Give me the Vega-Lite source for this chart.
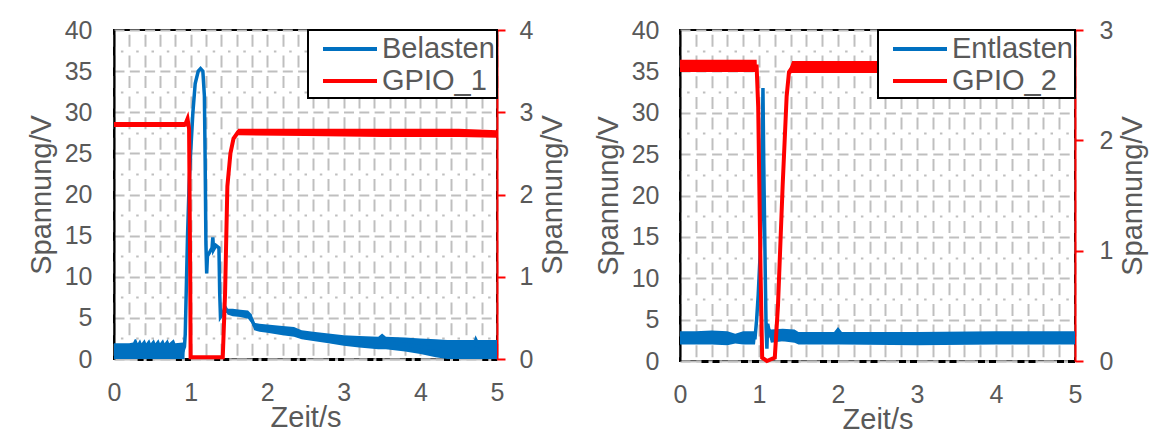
{
  "$schema": "https://vega.github.io/schema/vega-lite/v6.json",
  "padding": {"left": 26, "top": 17, "right": 0, "bottom": 0},
  "background": "white",
  "config": {
    "font": "Liberation Sans",
    "view": {"stroke": "black", "strokeWidth": 2},
    "axis": {
      "labelFont": "Liberation Sans", "titleFont": "Liberation Sans",
      "labelColor": "#595959", "titleColor": "#595959",
      "labelFontSize": 25, "titleFontSize": 29, "titleFontWeight": "normal",
      "labelOverlap": false, "labelFlush": false
    },
    "legend": {
      "orient": "top-right", "offset": 0, "padding": 2,
      "strokeColor": "black", "strokeWidth": 2, "fillColor": "white",
      "labelFontSize": 29, "labelColor": "#595959", "labelFont": "Liberation Sans",
      "symbolType": "M-1.8,0H1.8", "symbolStrokeWidth": 4, "symbolSize": 900,
      "rowPadding": -3, "labelOffset": 15, "labelLimit": 0, "symbolOffset": 23
    }
  },
  "datasets": {
    "p1": [
      {"s":"Belasten","t":0,"v":1,"lo":0,"hi":1.9},
      {"s":"Belasten","t":0.1,"v":1,"lo":0,"hi":1.9},
      {"s":"Belasten","t":0.2,"v":1,"lo":0,"hi":1.9},
      {"s":"Belasten","t":0.25,"v":1,"lo":0,"hi":2.0},
      {"s":"Belasten","t":0.27,"v":1.2,"lo":0,"hi":2.4},
      {"s":"Belasten","t":0.29,"v":1.2,"lo":0,"hi":2.4},
      {"s":"Belasten","t":0.31,"v":1,"lo":0,"hi":1.9},
      {"s":"Belasten","t":0.34,"v":1.2,"lo":0,"hi":2.4},
      {"s":"Belasten","t":0.36,"v":1,"lo":0,"hi":1.9},
      {"s":"Belasten","t":0.4,"v":1.2,"lo":0,"hi":2.4},
      {"s":"Belasten","t":0.42,"v":1,"lo":0,"hi":1.9},
      {"s":"Belasten","t":0.46,"v":1.2,"lo":0,"hi":2.4},
      {"s":"Belasten","t":0.48,"v":1,"lo":0,"hi":1.9},
      {"s":"Belasten","t":0.52,"v":1.2,"lo":0,"hi":2.4},
      {"s":"Belasten","t":0.54,"v":1,"lo":0,"hi":1.9},
      {"s":"Belasten","t":0.58,"v":1.2,"lo":0,"hi":2.4},
      {"s":"Belasten","t":0.6,"v":1,"lo":0,"hi":1.9},
      {"s":"Belasten","t":0.64,"v":1.2,"lo":0,"hi":2.4},
      {"s":"Belasten","t":0.66,"v":1,"lo":0,"hi":1.9},
      {"s":"Belasten","t":0.7,"v":1.2,"lo":0,"hi":2.4},
      {"s":"Belasten","t":0.72,"v":1,"lo":0,"hi":1.9},
      {"s":"Belasten","t":0.78,"v":1.2,"lo":0,"hi":2.4},
      {"s":"Belasten","t":0.8,"v":1,"lo":0,"hi":1.9},
      {"s":"Belasten","t":0.9,"v":1,"lo":0,"hi":2.0},
      {"s":"Belasten","t":0.92,"v":1.5,"lo":0,"hi":2.0},
      {"s":"Belasten","t":0.93,"v":3,"lo":3,"hi":3},
      {"s":"Belasten","t":0.96,"v":15,"lo":15,"hi":15},
      {"s":"Belasten","t":0.98,"v":21,"lo":21,"hi":21},
      {"s":"Belasten","t":1.0,"v":25,"lo":25,"hi":25},
      {"s":"Belasten","t":1.03,"v":30,"lo":30,"hi":30},
      {"s":"Belasten","t":1.06,"v":33.5,"lo":33.5,"hi":33.5},
      {"s":"Belasten","t":1.1,"v":35,"lo":35,"hi":35},
      {"s":"Belasten","t":1.13,"v":35.3,"lo":35.3,"hi":35.3},
      {"s":"Belasten","t":1.16,"v":35,"lo":35,"hi":35},
      {"s":"Belasten","t":1.18,"v":32,"lo":32,"hi":32},
      {"s":"Belasten","t":1.19,"v":24,"lo":24,"hi":24},
      {"s":"Belasten","t":1.2,"v":14,"lo":14,"hi":14},
      {"s":"Belasten","t":1.21,"v":10.4,"lo":10.4,"hi":10.4},
      {"s":"Belasten","t":1.22,"v":12.5,"lo":12.5,"hi":12.5},
      {"s":"Belasten","t":1.25,"v":13,"lo":13,"hi":13},
      {"s":"Belasten","t":1.28,"v":13.5,"lo":13.5,"hi":13.5},
      {"s":"Belasten","t":1.29,"v":14.8,"lo":14.8,"hi":14.8},
      {"s":"Belasten","t":1.3,"v":13.3,"lo":13.3,"hi":13.3},
      {"s":"Belasten","t":1.33,"v":13.8,"lo":13.8,"hi":13.8},
      {"s":"Belasten","t":1.37,"v":13.5,"lo":13.5,"hi":13.5},
      {"s":"Belasten","t":1.38,"v":8,"lo":8,"hi":8},
      {"s":"Belasten","t":1.39,"v":5.1,"lo":5.1,"hi":5.1},
      {"s":"Belasten","t":1.42,"v":5.5,"lo":5.5,"hi":5.5},
      {"s":"Belasten","t":1.45,"v":6.3,"lo":6.3,"hi":6.3},
      {"s":"Belasten","t":1.48,"v":5.8,"lo":5.4,"hi":6.1},
      {"s":"Belasten","t":1.55,"v":5.7,"lo":5.2,"hi":6.1},
      {"s":"Belasten","t":1.65,"v":5.6,"lo":5.1,"hi":6.0},
      {"s":"Belasten","t":1.75,"v":5.4,"lo":4.9,"hi":5.9},
      {"s":"Belasten","t":1.8,"v":4.8,"lo":4.3,"hi":5.4},
      {"s":"Belasten","t":1.83,"v":4.1,"lo":3.5,"hi":4.4},
      {"s":"Belasten","t":1.9,"v":3.9,"lo":3.3,"hi":4.3},
      {"s":"Belasten","t":2.0,"v":3.8,"lo":3.2,"hi":4.2},
      {"s":"Belasten","t":2.2,"v":3.5,"lo":2.9,"hi":4.0},
      {"s":"Belasten","t":2.35,"v":3.3,"lo":2.7,"hi":3.9},
      {"s":"Belasten","t":2.45,"v":3.0,"lo":2.4,"hi":3.5},
      {"s":"Belasten","t":2.6,"v":2.8,"lo":2.2,"hi":3.3},
      {"s":"Belasten","t":2.8,"v":2.6,"lo":1.9,"hi":3.1},
      {"s":"Belasten","t":3.0,"v":2.3,"lo":1.6,"hi":2.9},
      {"s":"Belasten","t":3.2,"v":2.2,"lo":1.4,"hi":2.8},
      {"s":"Belasten","t":3.45,"v":2.1,"lo":1.2,"hi":2.7},
      {"s":"Belasten","t":3.5,"v":2.2,"lo":1.2,"hi":3.1},
      {"s":"Belasten","t":3.55,"v":2.0,"lo":1.2,"hi":2.7},
      {"s":"Belasten","t":3.8,"v":1.8,"lo":0.9,"hi":2.6},
      {"s":"Belasten","t":4.0,"v":1.5,"lo":0.6,"hi":2.5},
      {"s":"Belasten","t":4.2,"v":1.3,"lo":0.2,"hi":2.4},
      {"s":"Belasten","t":4.35,"v":1.1,"lo":0,"hi":2.3},
      {"s":"Belasten","t":4.7,"v":1.1,"lo":0,"hi":2.3},
      {"s":"Belasten","t":4.72,"v":1.3,"lo":0,"hi":2.9},
      {"s":"Belasten","t":4.75,"v":1.1,"lo":0,"hi":2.3},
      {"s":"Belasten","t":5.0,"v":1.1,"lo":0,"hi":2.3},
      {"s":"GPIO_1","t":0,"v":2.85,"lo":2.82,"hi":2.88},
      {"s":"GPIO_1","t":0.93,"v":2.85,"lo":2.82,"hi":2.88},
      {"s":"GPIO_1","t":0.96,"v":2.92,"lo":2.9,"hi":2.94},
      {"s":"GPIO_1","t":0.98,"v":2.8,"lo":2.8,"hi":2.8},
      {"s":"GPIO_1","t":0.995,"v":1.0,"lo":1.0,"hi":1.0},
      {"s":"GPIO_1","t":1.0,"v":0.02,"lo":0.02,"hi":0.02},
      {"s":"GPIO_1","t":1.42,"v":0.02,"lo":0.02,"hi":0.02},
      {"s":"GPIO_1","t":1.45,"v":0.8,"lo":0.8,"hi":0.8},
      {"s":"GPIO_1","t":1.48,"v":2.1,"lo":2.1,"hi":2.1},
      {"s":"GPIO_1","t":1.52,"v":2.5,"lo":2.5,"hi":2.5},
      {"s":"GPIO_1","t":1.56,"v":2.68,"lo":2.66,"hi":2.7},
      {"s":"GPIO_1","t":1.62,"v":2.76,"lo":2.72,"hi":2.8},
      {"s":"GPIO_1","t":2.5,"v":2.76,"lo":2.71,"hi":2.8},
      {"s":"GPIO_1","t":3.5,"v":2.75,"lo":2.7,"hi":2.8},
      {"s":"GPIO_1","t":4.5,"v":2.75,"lo":2.7,"hi":2.8},
      {"s":"GPIO_1","t":5.0,"v":2.73,"lo":2.69,"hi":2.78}
    ],
    "p2": [
      {"s":"Entlasten","t":0,"v":2.8,"lo":2.0,"hi":3.6},
      {"s":"Entlasten","t":0.2,"v":2.8,"lo":2.0,"hi":3.6},
      {"s":"Entlasten","t":0.4,"v":2.8,"lo":2.0,"hi":3.7},
      {"s":"Entlasten","t":0.6,"v":2.8,"lo":1.9,"hi":3.6},
      {"s":"Entlasten","t":0.7,"v":2.8,"lo":2.1,"hi":3.3},
      {"s":"Entlasten","t":0.8,"v":2.8,"lo":2.0,"hi":3.6},
      {"s":"Entlasten","t":0.95,"v":2.8,"lo":2.0,"hi":3.6},
      {"s":"Entlasten","t":0.97,"v":5,"lo":4,"hi":6},
      {"s":"Entlasten","t":0.99,"v":8,"lo":8,"hi":8},
      {"s":"Entlasten","t":1.02,"v":14,"lo":14,"hi":14},
      {"s":"Entlasten","t":1.04,"v":25,"lo":25,"hi":25},
      {"s":"Entlasten","t":1.05,"v":33,"lo":33,"hi":33},
      {"s":"Entlasten","t":1.06,"v":24,"lo":24,"hi":24},
      {"s":"Entlasten","t":1.07,"v":17,"lo":17,"hi":17},
      {"s":"Entlasten","t":1.08,"v":10,"lo":10,"hi":10},
      {"s":"Entlasten","t":1.09,"v":4,"lo":4,"hi":4},
      {"s":"Entlasten","t":1.1,"v":1.5,"lo":1.5,"hi":1.5},
      {"s":"Entlasten","t":1.11,"v":4.5,"lo":4.5,"hi":4.5},
      {"s":"Entlasten","t":1.13,"v":3.5,"lo":3.0,"hi":4.0},
      {"s":"Entlasten","t":1.15,"v":3.0,"lo":2.2,"hi":3.8},
      {"s":"Entlasten","t":1.3,"v":3.1,"lo":2.4,"hi":3.9},
      {"s":"Entlasten","t":1.45,"v":3.0,"lo":2.2,"hi":3.8},
      {"s":"Entlasten","t":1.5,"v":2.8,"lo":2.0,"hi":3.5},
      {"s":"Entlasten","t":1.95,"v":2.8,"lo":2.0,"hi":3.5},
      {"s":"Entlasten","t":2.0,"v":2.9,"lo":2.0,"hi":4.1},
      {"s":"Entlasten","t":2.05,"v":2.8,"lo":2.0,"hi":3.5},
      {"s":"Entlasten","t":3.0,"v":2.8,"lo":1.9,"hi":3.5},
      {"s":"Entlasten","t":4.0,"v":2.8,"lo":2.0,"hi":3.6},
      {"s":"Entlasten","t":5.0,"v":2.8,"lo":2.0,"hi":3.6},
      {"s":"GPIO_2","t":0,"v":2.67,"lo":2.62,"hi":2.73},
      {"s":"GPIO_2","t":0.97,"v":2.67,"lo":2.62,"hi":2.73},
      {"s":"GPIO_2","t":0.99,"v":2.3,"lo":2.3,"hi":2.3},
      {"s":"GPIO_2","t":1.02,"v":0.8,"lo":0.8,"hi":0.8},
      {"s":"GPIO_2","t":1.04,"v":0.03,"lo":0.03,"hi":0.03},
      {"s":"GPIO_2","t":1.1,"v":0.0,"lo":0.0,"hi":0.0},
      {"s":"GPIO_2","t":1.2,"v":0.03,"lo":0.03,"hi":0.03},
      {"s":"GPIO_2","t":1.24,"v":0.5,"lo":0.5,"hi":0.5},
      {"s":"GPIO_2","t":1.3,"v":1.6,"lo":1.6,"hi":1.6},
      {"s":"GPIO_2","t":1.35,"v":2.4,"lo":2.4,"hi":2.4},
      {"s":"GPIO_2","t":1.38,"v":2.62,"lo":2.6,"hi":2.64},
      {"s":"GPIO_2","t":1.42,"v":2.66,"lo":2.61,"hi":2.72},
      {"s":"GPIO_2","t":3.0,"v":2.66,"lo":2.61,"hi":2.72},
      {"s":"GPIO_2","t":5.0,"v":2.66,"lo":2.61,"hi":2.72}
    ]
  },
  "resolve": {"scale": {"color": "independent"}, "legend": {"color": "independent"}},
  "spacing": 24,
  "hconcat": [
    {
      "width": 383, "height": 329,
      "data": {"name": "p1"},
      "resolve": {"scale": {"y": "independent"}, "axis": {"x": "independent", "y": "independent"}},
      "layer": [
        {
          "transform": [{"filter": "datum.s == 'Belasten'"}],
          "encoding": {
            "x": {"field": "t", "type": "quantitative", "scale": {"domain": [0, 5], "nice": false},
              "axis": {"values": [0,0.2,0.4,0.6,0.8,1,1.2,1.4,1.6,1.8,2,2.2,2.4,2.6,2.8,3,3.2,3.4,3.6,3.8,4,4.2,4.4,4.6,4.8,5],
                "labelExpr": "datum.value % 1 == 0 ? format(datum.value, 'd') : ''",
                "grid": true, "gridColor": "#bfbfbf", "gridWidth": 2, "gridDash": [12, 8.6], "gridDashOffset": 16.3,
                "ticks": false, "labelPadding": 21, "title": "Zeit/s", "titlePadding": -2,
                "domainColor": "#bfbfbf", "domainWidth": 2}}
          },
          "resolve": {"axis": {"y": "independent"}},
          "layer": [
            {
              "mark": {"type": "area", "color": "#0070C0", "opacity": 1},
              "encoding": {
                "y": {"field": "lo", "type": "quantitative", "scale": {"domain": [0, 40], "nice": false},
                  "axis": {"orient": "left", "values": [0,5,10,15,20,25,30,35,40], "title": "Spannung/V",
                    "grid": true, "gridColor": "#bfbfbf", "gridWidth": 2, "gridDash": [10, 5.3], "gridDashOffset": 0,
                    "ticks": false, "domainColor": "black", "domainWidth": 2, "labelPadding": 22, "titlePadding": 8}},
                "y2": {"field": "hi"}
              }
            },
            {
              "mark": {"type": "line", "strokeWidth": 3.5},
              "encoding": {
                "y": {"field": "v", "type": "quantitative",
                  "axis": {"orient": "left", "values": [2.5,7.5,12.5,17.5,22.5,27.5,32.5,37.5], "title": null,
                    "labels": false, "ticks": false, "domain": false,
                    "grid": true, "gridColor": "#bfbfbf", "gridWidth": 2, "gridDash": [2.5, 12.8], "gridDashOffset": -6.4}},
                "color": {"field": "s", "type": "nominal", "scale": {"domain": ["Belasten", "GPIO_1"], "range": ["#0070C0", "#FF0000"]},
                  "legend": {"title": null, "labelExpr": "datum.label + '\u00a0\u00a0'"}}
              }
            }
          ]
        },
        {
          "transform": [{"filter": "datum.s == 'GPIO_1'"}],
          "encoding": {
            "x": {"field": "t", "type": "quantitative", "scale": {"domain": [0, 5], "nice": false},
              "axis": {"orient": "bottom", "labels": false, "ticks": false, "grid": false, "title": null,
                "domainColor": "black", "domainWidth": 3, "domainDash": [6, 3, 6, 23.3], "domainDashOffset": 15.2}},
            "y": {"field": "v", "type": "quantitative", "scale": {"domain": [0, 4], "nice": false},
              "axis": {"orient": "right", "values": [0,1,2,3,4], "title": "Spannung/V", "titleAngle": 270, "titleBaseline": "top",
                "grid": false, "domainColor": "#FF0000", "domainWidth": 2, "tickColor": "#FF0000", "tickSize": 8, "tickWidth": 2,
                "labelPadding": 14, "titlePadding": 6}}
          },
          "layer": [
            {
              "mark": {"type": "area", "color": "#FF0000", "opacity": 1},
              "encoding": {"y": {"field": "lo", "type": "quantitative"}, "y2": {"field": "hi"}}
            },
            {
              "mark": {"type": "line", "strokeWidth": 4},
              "encoding": {
                "color": {"field": "s", "type": "nominal", "scale": {"domain": ["Belasten", "GPIO_1"], "range": ["#0070C0", "#FF0000"]},
                  "legend": {"title": null, "labelExpr": "datum.label + '\u00a0\u00a0'"}}
              }
            }
          ]
        }
      ]
    },
    {
      "width": 395, "height": 331,
      "data": {"name": "p2"},
      "resolve": {"scale": {"y": "independent"}, "axis": {"x": "independent", "y": "independent"}},
      "layer": [
        {
          "transform": [{"filter": "datum.s == 'Entlasten'"}],
          "encoding": {
            "x": {"field": "t", "type": "quantitative", "scale": {"domain": [0, 5], "nice": false},
              "axis": {"values": [0,0.2,0.4,0.6,0.8,1,1.2,1.4,1.6,1.8,2,2.2,2.4,2.6,2.8,3,3.2,3.4,3.6,3.8,4,4.2,4.4,4.6,4.8,5],
                "labelExpr": "datum.value % 1 == 0 ? format(datum.value, 'd') : ''",
                "grid": true, "gridColor": "#bfbfbf", "gridWidth": 2, "gridDash": [12, 8.7], "gridDashOffset": 16.4,
                "ticks": false, "labelPadding": 21, "title": "Zeit/s", "titlePadding": -2,
                "domainColor": "#bfbfbf", "domainWidth": 2}}
          },
          "resolve": {"axis": {"y": "independent"}},
          "layer": [
            {
              "mark": {"type": "area", "color": "#0070C0", "opacity": 1},
              "encoding": {
                "y": {"field": "lo", "type": "quantitative", "scale": {"domain": [0, 40], "nice": false},
                  "axis": {"orient": "left", "values": [0,5,10,15,20,25,30,35,40], "title": "Spannung/V",
                    "grid": true, "gridColor": "#bfbfbf", "gridWidth": 2, "gridDash": [10, 5.8], "gridDashOffset": 0,
                    "ticks": false, "domainColor": "black", "domainWidth": 2, "labelPadding": 21, "titlePadding": 8}},
                "y2": {"field": "hi"}
              }
            },
            {
              "mark": {"type": "line", "strokeWidth": 3.5},
              "encoding": {
                "y": {"field": "v", "type": "quantitative",
                  "axis": {"orient": "left", "values": [2.5,7.5,12.5,17.5,22.5,27.5,32.5,37.5], "title": null,
                    "labels": false, "ticks": false, "domain": false,
                    "grid": true, "gridColor": "#bfbfbf", "gridWidth": 2, "gridDash": [2.5, 13.3], "gridDashOffset": -6.6}},
                "color": {"field": "s", "type": "nominal", "scale": {"domain": ["Entlasten", "GPIO_2"], "range": ["#0070C0", "#FF0000"]},
                  "legend": {"title": null, "labelExpr": "datum.label + '\u00a0\u00a0'"}}
              }
            }
          ]
        },
        {
          "transform": [{"filter": "datum.s == 'GPIO_2'"}],
          "encoding": {
            "x": {"field": "t", "type": "quantitative", "scale": {"domain": [0, 5], "nice": false},
              "axis": {"orient": "bottom", "labels": false, "ticks": false, "grid": false, "title": null,
                "domainColor": "black", "domainWidth": 3, "domainDash": [7, 4, 7, 21.5], "domainDashOffset": 18.5}},
            "y": {"field": "v", "type": "quantitative", "scale": {"domain": [0, 3], "nice": false},
              "axis": {"orient": "right", "values": [0,1,2,3], "title": "Spannung/V", "titleAngle": 270, "titleBaseline": "top",
                "grid": false, "domainColor": "#FF0000", "domainWidth": 2, "tickColor": "#FF0000", "tickSize": 8, "tickWidth": 2,
                "labelPadding": 16, "titlePadding": 6}}
          },
          "layer": [
            {
              "mark": {"type": "area", "color": "#FF0000", "opacity": 1},
              "encoding": {"y": {"field": "lo", "type": "quantitative"}, "y2": {"field": "hi"}}
            },
            {
              "mark": {"type": "line", "strokeWidth": 4},
              "encoding": {
                "color": {"field": "s", "type": "nominal", "scale": {"domain": ["Entlasten", "GPIO_2"], "range": ["#0070C0", "#FF0000"]},
                  "legend": {"title": null, "labelExpr": "datum.label + '\u00a0\u00a0'"}}
              }
            }
          ]
        }
      ]
    }
  ]
}
